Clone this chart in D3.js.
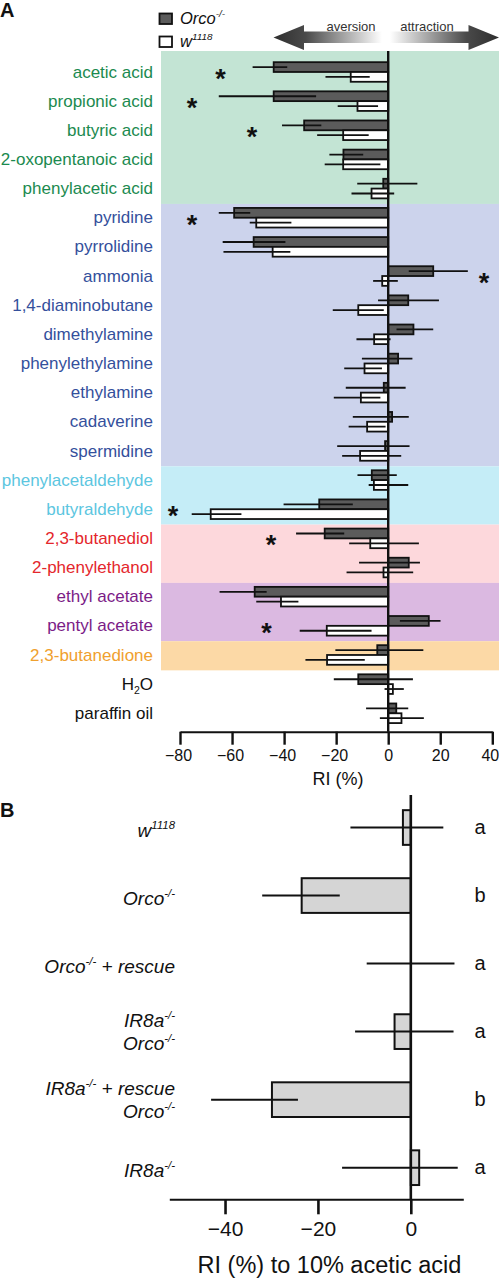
<!DOCTYPE html>
<html>
<head>
<meta charset="utf-8">
<script src="https://cdn.jsdelivr.net/npm/d3@7"></script>
<style>
  html, body { margin: 0; padding: 0; background: #fff; }
  svg { display: block; font-family: "Liberation Sans", Arial, Helvetica, sans-serif; }
</style>
</head>
<body>
<svg id="chart" width="499" height="1280"></svg>
<script>
// ---------------- DATA (panel A) ----------------
const odors = ["acetic acid","propionic acid","butyric acid","2-oxopentanoic acid","phenylacetic acid",
  "pyridine","pyrrolidine","ammonia","1,4-diaminobutane","dimethylamine","phenylethylamine","ethylamine","cadaverine","spermidine",
  "phenylacetaldehyde","butyraldehyde","2,3-butanediol","2-phenylethanol","ethyl acetate","pentyl acetate",
  "2,3-butanedione","H_{2}O","paraffin oil"];
const odorClass = ["acid","acid","acid","acid","acid",
  "amine","amine","amine","amine","amine","amine","amine","amine","amine",
  "aldehyde","aldehyde","alcohol","alcohol","ester","ester","ketone","control","control"];
const seriesNames = ["Orco^{-/-}", "w^{1118}"];
const orcoMean = [-44,-44,-32.3,-17.2,-1.9,-59.2,-51.7,17.3,7.7,9.7,3.8,-1.7,1.5,-1.2,-6.3,-26.5,-24.4,7.9,-51.3,15.6,-4.2,-11.5,3.1];
const orcoLo   = [-52.1,-65.1,-40.8,-22.6,-11.9,-65.1,-63.6,7.9,-3.9,3.2,-10.1,-16.3,-13.6,-19.6,-11.8,-40.2,-35.4,-11.2,-64.8,4.5,-20.3,-20.9,-8.5];
const orcoHi   = [-38.8,-27.7,-25.7,-9.6,11.2,-53,-39.5,30.6,19.5,17.3,9.3,6.7,7.9,8.2,3.3,-13.6,-16.9,12.2,-46.7,20.1,13.5,9.5,7.7];
const wMean    = [-14.4,-11.8,-17.3,-17.3,-6.4,-50.7,-44.4,-2.3,-11.5,-5.4,-9.1,-10.5,-8.1,-10.8,-5.5,-68.2,-6.9,-1.8,-41.2,-23.6,-23.5,1.8,5.1];
const wLo      = [-24.1,-19.4,-27.3,-24.4,-14.1,-53.2,-63.3,-5.8,-21.3,-12.2,-16.9,-20.9,-15.2,-17.7,-7.5,-75.5,-15,-16,-50.7,-34,-31.8,-1.4,-3.2];
const wHi      = [-7.1,-3.9,-7.5,-3,2.3,-37.2,-37.6,3.7,-1.7,0.9,-2.4,-3,-1,5,7.7,-56.4,11.8,9.6,-34.5,-6.4,-9,6,13.7];
const sigOdors = ["acetic acid","propionic acid","butyric acid","pyridine","ammonia","butyraldehyde","2,3-butanediol","pentyl acetate"];
const sigAt    = [-64.4,-75.4,-52.3,-75.4,36.8,-82.7,-45,-46.8];
const ticksA   = [-80,-60,-40,-20,0,20,40];

// ---------------- DATA (panel B) ----------------
const strains = ["w^{1118}","Orco^{-/-}","Orco^{-/-} + rescue","IR8a^{-/-}|Orco^{-/-}","IR8a^{-/-} + rescue|Orco^{-/-}","IR8a^{-/-}"];
const acetMean = [-1.7,-23.5,0,-3.5,-29.9,1.8];
const acetLo   = [-13,-32,-9.5,-12,-43,-14.8];
const acetHi   = [7,-15.3,9.4,9.2,-24.3,10.1];
const statLetters = ["a","b","a","a","b","a"];
const ticksB   = [-40,-20,0];

// ---------------- STYLES ----------------
const classText = {acid:"#1b8a4f", amine:"#34509c", aldehyde:"#5cc6df", alcohol:"#e4262c", ester:"#7b1c87", ketone:"#f0a02e", control:"#111"};
const classBg   = {acid:"#c3e4d4", amine:"#ccd3ec", aldehyde:"#c5edf7", alcohol:"#fdd8dc", ester:"#dbb9e1", ketone:"#fcd9a6"};
const darkFill = "#5b5b5b";

const svg = d3.select("#chart");

function richText(sel, str, size) {
  const parts = str.split(/(\^\{[^}]*\}|_\{[^}]*\})/).filter(s => s.length);
  let back = 0;
  parts.forEach(p => {
    if (p.startsWith("^{")) {
      sel.append("tspan").attr("dy", -size*0.42).attr("font-size", size*0.6).text(p.slice(2,-1));
      back = size*0.42;
    } else if (p.startsWith("_{")) {
      sel.append("tspan").attr("dy", size*0.28).attr("font-size", size*0.62).text(p.slice(2,-1));
      back = -size*0.28;
    } else {
      const t = sel.append("tspan").text(p);
      if (back) { t.attr("dy", back); back = 0; }
    }
  });
}

// ================= PANEL A =================
const xA = d3.scaleLinear().domain([-80, 40]).range([180, 492.3]);
const yA = d3.scaleBand().domain(odors).range([57.2, 57.2 + 23*29.15]);
const ySub = d3.scaleBand().domain(["orco","w"]).range([(29.15-19.6)/2 + 0.2, (29.15+19.6)/2 + 0.2]);
const axisYA = 731.7;

// background bands
const classes = [...new Set(odorClass)].filter(c => classBg[c]);
classes.forEach((c, ci) => {
  const idx = odorClass.map((k,i)=>k===c?i:-1).filter(i=>i>=0);
  const top = ci === 0 ? 51 : yA(odors[idx[0]]) + 1;
  const bot = yA(odors[idx[idx.length-1]]) + yA.step() + 1;
  svg.append("rect").attr("x", 161).attr("y", top).attr("width", 338).attr("height", bot - top)
    .attr("fill", classBg[c]);
});

// labels
odors.forEach((o, i) => {
  const t = svg.append("text").attr("x", 153).attr("y", yA(o) + yA.step()/2 + 5.8)
    .attr("text-anchor", "end").attr("font-size", 17).attr("fill", classText[odorClass[i]]);
  richText(t, o, 17);
});

// bars
function drawSeries(mean, lo, hi, key, fill) {
  const g = svg.append("g");
  g.selectAll("rect").data(odors).join("rect")
    .attr("x", (d,i) => xA(Math.min(0, mean[i])))
    .attr("width", (d,i) => Math.abs(xA(mean[i]) - xA(0)))
    .attr("y", d => yA(d) + ySub(key))
    .attr("height", ySub.bandwidth())
    .attr("fill", fill).attr("stroke", "#111").attr("stroke-width", 1.8);
  g.selectAll("line").data(odors).join("line")
    .attr("x1", (d,i) => xA(lo[i])).attr("x2", (d,i) => xA(hi[i]))
    .attr("y1", d => yA(d) + ySub(key) + ySub.bandwidth()/2)
    .attr("y2", d => yA(d) + ySub(key) + ySub.bandwidth()/2)
    .attr("stroke", "#111").attr("stroke-width", 1.8);
}
drawSeries(orcoMean, orcoLo, orcoHi, "orco", darkFill);
drawSeries(wMean, wLo, wHi, "w", "#fff");

// zero line
svg.append("line").attr("x1", xA(0)).attr("x2", xA(0)).attr("y1", 51).attr("y2", axisYA)
  .attr("stroke", "#111").attr("stroke-width", 2.4);

// asterisks
sigOdors.forEach((o, i) => {
  svg.append("text").attr("x", xA(sigAt[i])).attr("y", yA(o) + yA.step()/2 + 16)
    .attr("text-anchor", "middle").attr("font-size", 27).attr("font-weight", "bold").attr("fill", "#111").text("*");
});

// axis A
const axA = svg.append("g").attr("transform", `translate(0,${axisYA})`)
  .call(d3.axisBottom(xA).tickValues(ticksA).tickSize(13).tickSizeOuter(0).tickFormat(d => d < 0 ? "\u2212" + Math.abs(d) : d));
axA.select(".domain").attr("stroke", "#111").attr("stroke-width", 2);
axA.selectAll(".tick line").attr("stroke", "#111").attr("stroke-width", 2.4);
axA.selectAll(".tick text").attr("font-size", 16).attr("font-family", "Liberation Sans, Arial, sans-serif")
  .attr("fill", "#111").attr("y", 18).attr("dy", "0.71em")
  .attr("dx", d => d === 40 ? -2.5 : (d < 0 ? -2 : 0));
svg.append("text").attr("x", 338).attr("y", 785).attr("text-anchor", "middle").attr("font-size", 18)
  .attr("fill", "#111").text("RI (%)");

// legend
svg.append("rect").attr("x", 159.5).attr("y", 13.5).attr("width", 12.5).attr("height", 10.5)
  .attr("fill", darkFill).attr("stroke", "#111").attr("stroke-width", 1.8);
svg.append("rect").attr("x", 159.5).attr("y", 36.5).attr("width", 12.5).attr("height", 10.5)
  .attr("fill", "#fff").attr("stroke", "#111").attr("stroke-width", 1.8);
seriesNames.forEach((s, i) => {
  const t = svg.append("text").attr("x", 180).attr("y", 24 + i*23).attr("font-size", 16.5)
    .attr("font-style", "italic").attr("fill", "#111");
  richText(t, s, 16.5);
});

// arrows
const defs = svg.append("defs");
const gL = defs.append("linearGradient").attr("id", "gl").attr("gradientUnits", "userSpaceOnUse")
  .attr("x1", 273).attr("x2", 382).attr("y1", 0).attr("y2", 0);
gL.append("stop").attr("offset", 0).attr("stop-color", "#2e2e2e");
gL.append("stop").attr("offset", 0.3).attr("stop-color", "#4a4a4a");
gL.append("stop").attr("offset", 1).attr("stop-color", "#ffffff");
const gR = defs.append("linearGradient").attr("id", "gr").attr("gradientUnits", "userSpaceOnUse")
  .attr("x1", 499).attr("x2", 390).attr("y1", 0).attr("y2", 0);
gR.append("stop").attr("offset", 0).attr("stop-color", "#2e2e2e");
gR.append("stop").attr("offset", 0.3).attr("stop-color", "#4a4a4a");
gR.append("stop").attr("offset", 1).attr("stop-color", "#ffffff");
svg.append("path").attr("d", "M273.5,37.5 L304,25 L304,31.5 L382,31.5 L382,43 L304,43 L304,50 Z").attr("fill", "url(#gl)");
svg.append("path").attr("d", "M499,37.5 L468.5,25 L468.5,31.5 L390,31.5 L390,43 L468.5,43 L468.5,50 Z").attr("fill", "url(#gr)");
svg.append("text").attr("x", 351).attr("y", 30.5).attr("text-anchor", "middle").attr("font-size", 13).attr("fill", "#333").text("aversion");
svg.append("text").attr("x", 427).attr("y", 30.5).attr("text-anchor", "middle").attr("font-size", 13).attr("fill", "#333").text("attraction");

// panel letters
svg.append("text").attr("x", 0).attr("y", 17).attr("font-size", 20).attr("font-weight", "bold").attr("fill", "#111").text("A");
svg.append("text").attr("x", 0).attr("y", 817).attr("font-size", 20).attr("font-weight", "bold").attr("fill", "#111").text("B");

// ================= PANEL B =================
const xB = d3.scaleLinear().domain([-52, 11.3]).range([169.3, 463.3]);
const yB = d3.scaleBand().domain(strains).range([793.5, 1201.7]).paddingInner(0.49).paddingOuter(0.245);
const axisYB = 1199.3;

svg.append("g").selectAll("rect").data(strains).join("rect")
  .attr("x", (d,i) => xB(Math.min(0, acetMean[i])))
  .attr("width", (d,i) => Math.abs(xB(acetMean[i]) - xB(0)))
  .attr("y", d => yB(d)).attr("height", yB.bandwidth())
  .attr("fill", "#d5d5d5").attr("stroke", "#111").attr("stroke-width", 2);
svg.append("g").selectAll("line").data(strains).join("line")
  .attr("x1", (d,i) => xB(acetLo[i])).attr("x2", (d,i) => xB(acetHi[i]))
  .attr("y1", d => yB(d) + yB.bandwidth()/2).attr("y2", d => yB(d) + yB.bandwidth()/2)
  .attr("stroke", "#111").attr("stroke-width", 2);
svg.append("line").attr("x1", xB(0)).attr("x2", xB(0)).attr("y1", 795).attr("y2", axisYB)
  .attr("stroke", "#111").attr("stroke-width", 2.6);

strains.forEach((s, i) => {
  const lines = s.split("|");
  const c = yB(s) + yB.bandwidth()/2;
  lines.forEach((ln, j) => {
    const y = lines.length === 1 ? c + 9.5 : c - 4.5 + j*22.5;
    const t = svg.append("text").attr("x", 175).attr("y", y).attr("text-anchor", "end")
      .attr("font-size", 19).attr("font-style", "italic").attr("fill", "#111");
    richText(t, ln, 19);
  });
  svg.append("text").attr("x", 480).attr("y", c + 6.5).attr("text-anchor", "middle")
    .attr("font-size", 20).attr("fill", "#111").text(statLetters[i]);
});

const axB = svg.append("g").attr("transform", `translate(0,${axisYB})`)
  .call(d3.axisBottom(xB).tickValues(ticksB).tickSize(15).tickSizeOuter(0).tickFormat(d => d < 0 ? "\u2212" + Math.abs(d) : d));
axB.select(".domain").attr("stroke", "#111").attr("stroke-width", 2);
axB.selectAll(".tick line").attr("stroke", "#111").attr("stroke-width", 2.6);
axB.selectAll(".tick text").attr("font-size", 21).attr("font-family", "Liberation Sans, Arial, sans-serif")
  .attr("fill", "#111").attr("y", 22).attr("dy", "0.71em");
svg.append("text").attr("x", 329.5).attr("y", 1273.3).attr("text-anchor", "middle").attr("font-size", 23.5)
  .attr("fill", "#111").text("RI (%) to 10% acetic acid");
</script>
</body>
</html>
